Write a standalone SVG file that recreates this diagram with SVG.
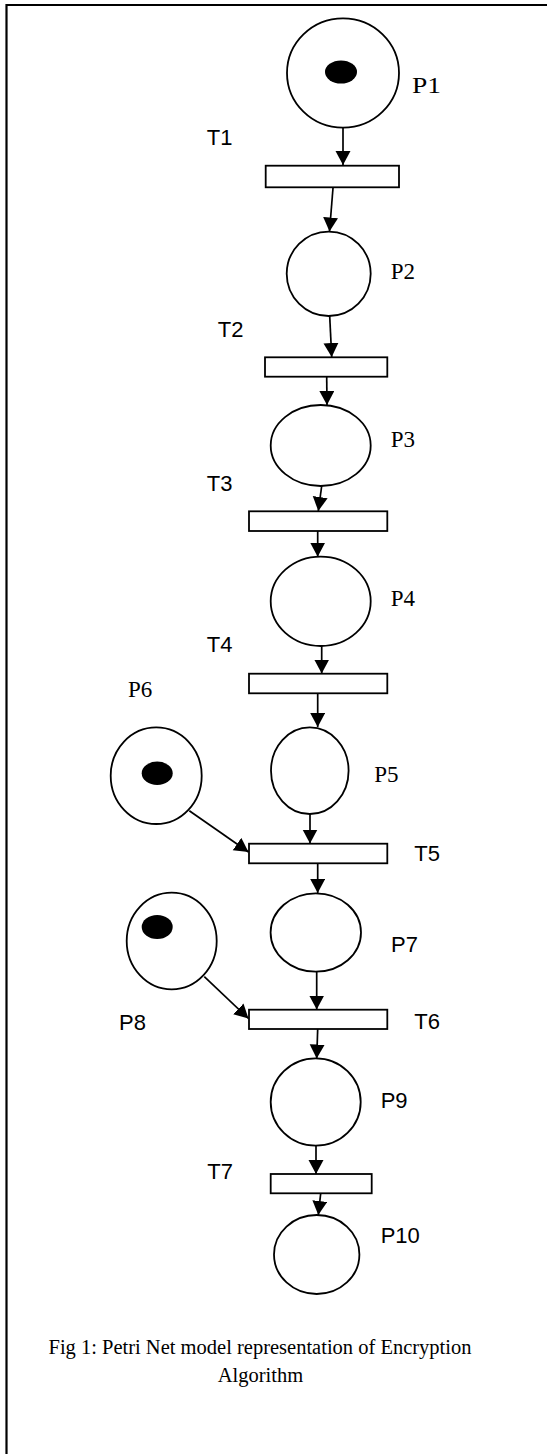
<svg xmlns="http://www.w3.org/2000/svg" width="547" height="1454" viewBox="0 0 547 1454">
<style>
.pl{fill:#fff;stroke:#000;stroke-width:1.8}
.tr{fill:#fff;stroke:#000;stroke-width:1.8}
.tok{fill:#000}
.ser{font-family:"Liberation Serif","Times New Roman",serif;font-size:23px;fill:#000}
.san{font-family:"Liberation Sans",Arial,sans-serif;font-size:22px;fill:#000}
.cap{font-family:"Liberation Serif","Times New Roman",serif;font-size:20.5px;fill:#000;text-anchor:middle}
.arc{stroke:#000;stroke-width:1.7;fill:none;marker-end:url(#ah)}
.bd{stroke:#000;stroke-width:2.2;fill:none}
</style>
<defs>
<marker id="ah" markerUnits="userSpaceOnUse" markerWidth="16" markerHeight="16" refX="14" refY="7.5" orient="auto">
<path d="M0,0 L14,7.5 L0,15 z" fill="#000"/>
</marker>
</defs>
<rect width="547" height="1454" fill="#fff"/>
<g id="border">
<path class="bd" d="M6.5,1454 V5 H547"/>
</g>
<g id="connectors">
<line class="arc" x1="343" y1="128" x2="343" y2="165"/>
<line class="arc" x1="333" y1="188" x2="329.5" y2="231.5"/>
<line class="arc" x1="329.7" y1="316" x2="331.7" y2="357"/>
<line class="arc" x1="326.7" y1="377" x2="327" y2="405"/>
<line class="arc" x1="321.7" y1="486" x2="318.3" y2="511"/>
<line class="arc" x1="317.7" y1="531" x2="317.7" y2="556.7"/>
<line class="arc" x1="321.7" y1="646" x2="321.7" y2="673.5"/>
<line class="arc" x1="317.7" y1="693.5" x2="317.7" y2="727"/>
<line class="arc" x1="189.3" y1="810.7" x2="248.5" y2="852"/>
<line class="arc" x1="310" y1="814" x2="310" y2="843.5"/>
<line class="arc" x1="317.7" y1="863.5" x2="317.7" y2="893"/>
<line class="arc" x1="204.3" y1="976.7" x2="248.5" y2="1018.5"/>
<line class="arc" x1="316.7" y1="971.7" x2="316.7" y2="1009.5"/>
<line class="arc" x1="317.7" y1="1029" x2="316.7" y2="1058.5"/>
<line class="arc" x1="316" y1="1145.7" x2="316" y2="1174"/>
<line class="arc" x1="320.7" y1="1193.3" x2="318.3" y2="1215"/>
</g>
<g id="P1">
<ellipse class="pl" cx="343" cy="73" rx="56" ry="54.7"/>
<ellipse class="tok" cx="341" cy="72" rx="16" ry="11.5"/>
<text class="ser" x="412" y="93" textLength="29" lengthAdjust="spacingAndGlyphs">P1</text>
</g>
<g id="T1">
<rect class="tr" x="265.7" y="165.7" width="133.3" height="21.6"/>
<text class="san" x="206.7" y="145">T1</text>
</g>
<g id="P2">
<ellipse class="pl" cx="328.7" cy="273.8" rx="42" ry="42.2"/>
<text class="ser" x="390.7" y="279">P2</text>
</g>
<g id="T2">
<rect class="tr" x="265" y="357.3" width="122.3" height="19.4"/>
<text class="san" x="217.7" y="336.7">T2</text>
</g>
<g id="P3">
<ellipse class="pl" cx="320.7" cy="445.5" rx="50" ry="40.5"/>
<text class="ser" x="390.7" y="446.7">P3</text>
</g>
<g id="T3">
<rect class="tr" x="249" y="511.3" width="138.3" height="19.7"/>
<text class="san" x="206.7" y="490.7">T3</text>
</g>
<g id="P4">
<ellipse class="pl" cx="320.7" cy="601.3" rx="50" ry="44.7"/>
<text class="ser" x="390.7" y="606">P4</text>
</g>
<g id="T4">
<rect class="tr" x="249" y="673.7" width="138.3" height="19.6"/>
<text class="san" x="206.7" y="652.3">T4</text>
</g>
<g id="P5">
<ellipse class="pl" cx="309.8" cy="770.7" rx="38.8" ry="43.3"/>
<text class="ser" x="374.3" y="781.7">P5</text>
</g>
<g id="P6">
<ellipse class="pl" cx="156.2" cy="775.7" rx="45.5" ry="48.3"/>
<ellipse class="tok" cx="157.2" cy="773.3" rx="15.5" ry="11.7"/>
<text class="ser" x="128" y="697">P6</text>
</g>
<g id="T5">
<rect class="tr" x="249" y="843.7" width="138.3" height="19.6"/>
<text class="san" x="414.3" y="860.7">T5</text>
</g>
<g id="P7">
<ellipse class="pl" cx="315.8" cy="932.5" rx="45.2" ry="39.2"/>
<text class="san" x="391" y="952.3">P7</text>
</g>
<g id="P8">
<ellipse class="pl" cx="171.7" cy="941" rx="45" ry="48.3"/>
<ellipse class="tok" cx="157.2" cy="927" rx="15.5" ry="12"/>
<text class="san" x="119" y="1030">P8</text>
</g>
<g id="T6">
<rect class="tr" x="249" y="1009.7" width="138.3" height="19.3"/>
<text class="san" x="414.3" y="1029.3">T6</text>
</g>
<g id="P9">
<ellipse class="pl" cx="315.7" cy="1102" rx="45" ry="43.7"/>
<text class="san" x="380.7" y="1108.3">P9</text>
</g>
<g id="T7">
<rect class="tr" x="270.7" y="1174" width="101" height="19.3"/>
<text class="san" x="207.3" y="1179">T7</text>
</g>
<g id="P10">
<ellipse class="pl" cx="316.7" cy="1254.5" rx="42.7" ry="39.5"/>
<text class="san" x="380.7" y="1242.7">P10</text>
</g>
<g id="caption">
<text class="cap" x="260" y="1354.3">Fig 1: Petri Net model representation of Encryption</text>
<text class="cap" x="260.5" y="1381.7">Algorithm</text>
</g>
</svg>
